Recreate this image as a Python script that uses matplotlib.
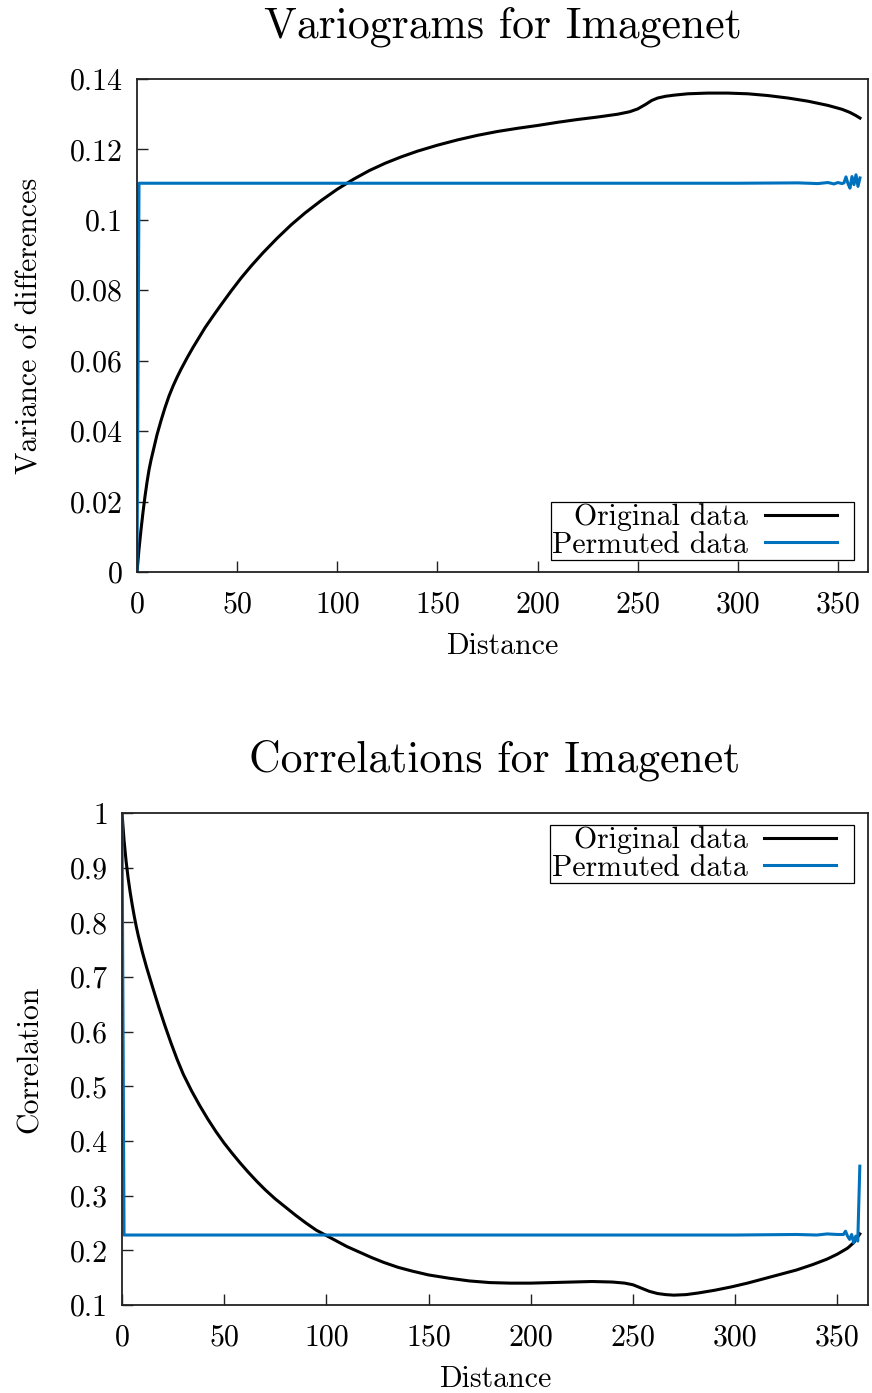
import matplotlib
matplotlib.use("Agg")
import matplotlib.pyplot as plt
from matplotlib.lines import Line2D
from matplotlib.legend_handler import HandlerLine2D

plt.rcParams['font.family'] = ['cmr10', 'DejaVu Serif']
plt.rcParams['axes.formatter.use_mathtext'] = True
plt.rcParams['mathtext.fontset'] = 'cm'

# ---------------- data ----------------
vario_orig_x = [0, 1, 2, 3, 4, 5, 6, 7, 8, 10, 12, 14, 16, 18, 20, 22, 25, 28, 31, 34, 38,
                42, 47, 52, 57, 63, 70, 77, 84, 92, 100, 108, 116, 124, 132, 140, 150,
                160, 170, 180, 190, 200, 210, 220, 230, 240, 246, 250, 254, 257, 260,
                264, 268, 275, 285, 295, 305, 315, 325, 335, 345, 352, 356, 359, 361]
vario_orig_y = [0.0, 0.0065, 0.0120, 0.0170, 0.0215, 0.0255, 0.0290, 0.0318, 0.0342,
                0.0390, 0.0430, 0.0467, 0.0500, 0.0528, 0.0553, 0.0576, 0.0608, 0.0638,
                0.0666, 0.0694, 0.0727, 0.0759, 0.0798, 0.0835, 0.0869, 0.0907, 0.0948,
                0.0986, 0.1020, 0.1055, 0.1087, 0.1115, 0.1140, 0.1161, 0.1179, 0.1195,
                0.1212, 0.1227, 0.1240, 0.1251, 0.1260, 0.1268, 0.1277, 0.1285, 0.1292,
                0.1300, 0.1307, 0.1315, 0.1328, 0.1339, 0.1346, 0.1351, 0.1354, 0.1358,
                0.1360, 0.1360, 0.1358, 0.1353, 0.1346, 0.1337, 0.1325, 0.1314, 0.1305,
                0.1296, 0.1289]

vario_perm_x = [0, 1, 100, 200, 300, 330, 340, 345, 348, 350, 352, 353, 354, 355, 356,
                357, 358, 359, 360, 361]
vario_perm_y = [0.0, 0.1104, 0.1104, 0.1104, 0.1104, 0.1105, 0.1103, 0.1106, 0.1102,
                0.1106, 0.1103, 0.1105, 0.1122, 0.1103, 0.1090, 0.1123, 0.1100, 0.1128,
                0.1095, 0.1119]

corr_orig_x = [0, 1, 2, 3, 4, 5, 6, 7, 8, 10, 12, 15, 18, 21, 24, 27, 30, 34, 38, 42, 46,
               50, 54, 58, 62, 66, 70, 75, 80, 85, 90, 95, 100, 105, 110, 116, 122, 128,
               135, 142, 150, 160, 170, 180, 190, 200, 210, 220, 230, 240, 246, 250, 254,
               258, 262, 266, 270, 276, 282, 290, 298, 306, 314, 322, 330, 338, 345, 350,
               355, 358, 361]
corr_orig_y = [1.0, 0.950, 0.912, 0.881, 0.855, 0.832, 0.811, 0.792, 0.775, 0.745, 0.718,
               0.681, 0.645, 0.611, 0.579, 0.549, 0.522, 0.492, 0.465, 0.440, 0.417, 0.396,
               0.377, 0.359, 0.342, 0.326, 0.311, 0.294, 0.279, 0.264, 0.250, 0.237, 0.227,
               0.217, 0.207, 0.197, 0.187, 0.178, 0.169, 0.162, 0.155, 0.149, 0.144, 0.141,
               0.140, 0.140, 0.141, 0.142, 0.143, 0.142, 0.140, 0.137, 0.131, 0.125, 0.121,
               0.119, 0.118, 0.119, 0.122, 0.127, 0.133, 0.140, 0.148, 0.156, 0.164, 0.174,
               0.184, 0.193, 0.204, 0.214, 0.230]

corr_perm_x = [0, 1, 100, 200, 300, 330, 340, 345, 350, 353, 354, 355, 356, 357, 358,
               359, 360, 361]
corr_perm_y = [1.0, 0.228, 0.228, 0.228, 0.228, 0.229, 0.228, 0.230, 0.229, 0.229, 0.235,
               0.226, 0.220, 0.229, 0.214, 0.226, 0.217, 0.354]

vario_yticks = [0, 0.02, 0.04, 0.06, 0.08, 0.1, 0.12, 0.14]
vario_yticklabels = ['0', '0.02', '0.04', '0.06', '0.08', '0.1', '0.12', '0.14']
corr_yticks = [0.1, 0.2, 0.3, 0.4, 0.5, 0.6, 0.7, 0.8, 0.9, 1.0]
corr_yticklabels = ['0.1', '0.2', '0.3', '0.4', '0.5', '0.6', '0.7', '0.8', '0.9', '1']
xticks = [0, 50, 100, 150, 200, 250, 300, 350]
xticklabels = ['0', '50', '100', '150', '200', '250', '300', '350']

labels = ['Original data', 'Permuted data']
BLUE = '#0072bd'
FS = 21.5
LW = 2.2

W, H = 872, 1393
fig = plt.figure(figsize=(W / 100, H / 100), dpi=100)


class ShortLine(HandlerLine2D):
    """Legend sample that leaves a gap before the right frame edge."""
    def create_artists(self, legend, orig_handle, xdescent, ydescent, width, height,
                       fontsize, trans):
        arts = super().create_artists(legend, orig_handle, xdescent, ydescent, width,
                                      height, fontsize, trans)
        for a in arts:
            xd = list(a.get_xdata())
            if len(xd) >= 2:
                x0 = xd[0]
                a.set_xdata([x0 + (x - x0) * 0.82 for x in xd])
        return arts


def style(ax):
    for s in ax.spines.values():
        s.set_linewidth(1.3)
        s.set_color('#222222')
    ax.tick_params(direction='in', length=8, width=1.0, colors='#222222',
                   labelsize=FS, top=False, right=False)
    ax.tick_params(axis='x', pad=14)
    ax.tick_params(axis='y', pad=10)
    for lab in ax.get_xticklabels() + ax.get_yticklabels():
        lab.set_color('black')


def px_axes(l, t, r, b):
    return fig.add_axes([l / W, 1 - b / H, (r - l) / W, (b - t) / H])


def legend(ax, loc, anchor):
    leg = ax.legend(loc=loc, bbox_to_anchor=anchor, borderaxespad=0,
                    fontsize=FS, markerfirst=False, handlelength=2.95, handletextpad=0.55,
                    borderpad=0.05, labelspacing=0.0, fancybox=False, framealpha=1,
                    edgecolor='black', handler_map={Line2D: ShortLine()})
    leg.get_frame().set_linewidth(0.9)
    return leg


# --- top plot ---
ax1 = px_axes(137, 79, 868, 572)
ax1.plot(vario_orig_x, vario_orig_y, color='black', lw=LW, label=labels[0])
ax1.plot(vario_perm_x, vario_perm_y, color=BLUE, lw=LW, label=labels[1])
ax1.set_xlim(0, 365)
ax1.set_ylim(0, 0.14)
ax1.set_xticks(xticks, xticklabels)
ax1.set_yticks(vario_yticks, vario_yticklabels)
style(ax1)
ax1.set_title('Variograms for Imagenet', fontsize=31.5, pad=30)
ax1.set_xlabel('Distance', fontsize=FS, labelpad=10)
ax1.set_ylabel('Variance of differences', fontsize=FS, labelpad=19)
legend(ax1, 'lower right', (0.981, 0.024))

# --- bottom plot ---
ax2 = px_axes(122, 813, 868, 1305)
ax2.plot(corr_orig_x, corr_orig_y, color='black', lw=LW, label=labels[0])
ax2.plot(corr_perm_x, corr_perm_y, color=BLUE, lw=LW, label=labels[1])
ax2.set_xlim(0, 365)
ax2.set_ylim(0.1, 1.0)
ax2.set_xticks(xticks, xticklabels)
ax2.set_yticks(corr_yticks, corr_yticklabels)
style(ax2)
ax2.set_title('Correlations for Imagenet', fontsize=31.5, pad=30)
ax2.set_xlabel('Distance', fontsize=FS, labelpad=10)
ax2.set_ylabel('Correlation', fontsize=FS, labelpad=19)
legend(ax2, 'upper right', (0.981, 0.976))

fig.savefig('out.png', dpi=100)
